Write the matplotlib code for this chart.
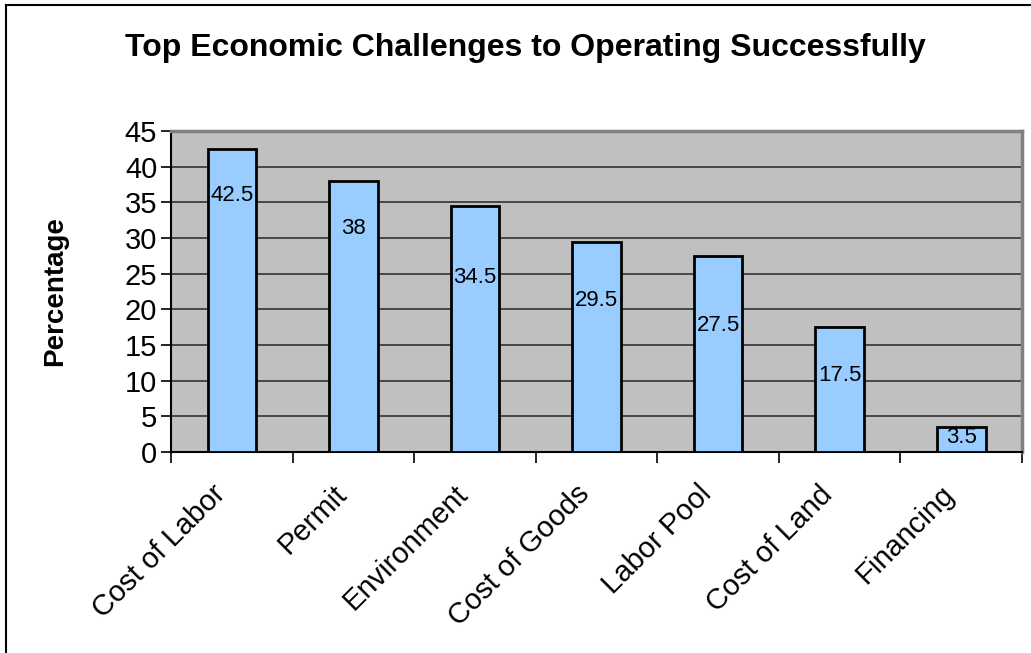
import numpy as np
import matplotlib
matplotlib.use('Agg')
import matplotlib.pyplot as plt
import matplotlib.transforms as mtransforms
from matplotlib.lines import Line2D

plt.rcParams['font.family'] = ['Liberation Sans', 'DejaVu Sans']

categories = ['Cost of Labor', 'Permit', 'Environment', 'Cost of Goods',
              'Labor Pool', 'Cost of Land', 'Financing']
values = [42.5, 38, 34.5, 29.5, 27.5, 17.5, 3.5]
# heights where each value label sits inside its bar
label_heights = [36.0, 31.4, 24.5, 21.2, 17.8, 10.7, 2.1]

fig = plt.figure(figsize=(10.31, 6.53), dpi=100)
ax = fig.add_axes([0.1659, 0.3078, 0.9913 - 0.1659, 0.7994 - 0.3078])
ax.set_facecolor('#C0C0C0')

x = np.arange(len(categories))
ax.bar(x, values, width=0.4, color='#99CCFF', edgecolor='black', linewidth=2, zorder=3)

for xi, v, h in zip(x, values, label_heights):
    ax.text(xi, h, '%g' % v, ha='center', va='center', fontsize=16, zorder=4)

ax.set_xlim(-0.5, len(categories) - 0.5)
ax.set_ylim(0, 45)
ax.set_yticks(np.arange(0, 46, 5))
ax.yaxis.grid(True, color='#333333', linewidth=1.2, zorder=0)
ax.set_axisbelow(True)

ax.set_xticks(np.arange(len(categories) + 1) - 0.5)
ax.set_xticklabels([])
ax.set_xticks(x, minor=True)
ax.set_xticklabels(categories, minor=True, rotation=45, ha='right', va='center',
                   rotation_mode='anchor', fontsize=21)
ax.tick_params(axis='x', which='minor', length=0, pad=36)
ax.tick_params(axis='x', which='major', length=8, width=1.2, color='black')
ax.tick_params(axis='y', length=7, width=1.2, labelsize=21, pad=3)

# nudge the slanted category names up and to the left
shift = mtransforms.ScaledTranslation(-11 / 100, 12 / 100, fig.dpi_scale_trans)
for lbl in ax.get_xticklabels(minor=True):
    lbl.set_transform(lbl.get_transform() + shift)

for side in ['top', 'right']:
    ax.spines[side].set_color('#808080')
    ax.spines[side].set_linewidth(2.5)
ax.spines['left'].set_linewidth(1.5)
ax.spines['bottom'].set_linewidth(1.5)

ax.set_ylabel('Percentage', fontsize=20, fontweight='bold', labelpad=41)
fig.text(0.510, 0.927, 'Top Economic Challenges to Operating Successfully',
         ha='center', va='center', fontsize=23, fontweight='bold')

# chart border along the left and top edges
fig.add_artist(Line2D([6 / 1031, 6 / 1031], [0, 1 - 5 / 653], color='black', lw=1.5))
fig.add_artist(Line2D([6 / 1031, 1], [1 - 5 / 653, 1 - 5 / 653], color='black', lw=1.5))

fig.savefig('out.png', dpi=100)
